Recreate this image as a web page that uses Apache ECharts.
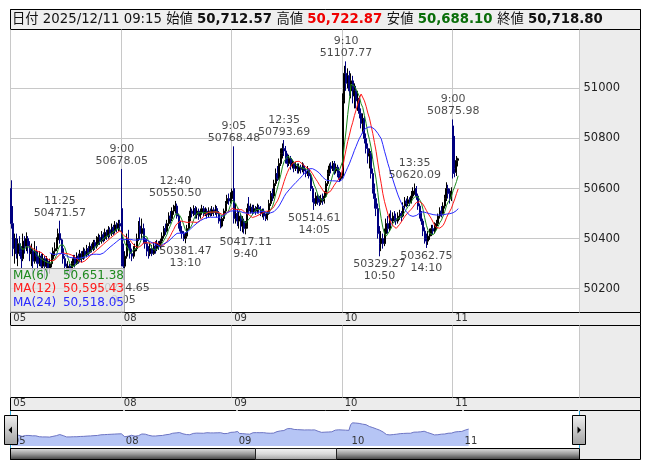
<!DOCTYPE html>
<html><head><meta charset="utf-8">
<script src="https://cdn.jsdelivr.net/npm/echarts@6/dist/echarts.min.js"></script>
<style>html,body{margin:0;padding:0;background:#fff}#c{width:653px;height:470px}</style>
</head><body><div id="c"></div>
<script>
// ---------- data ----------
const days = ['05', '08', '09', '10', '11'];
const sessionTimes = ['9:00','9:05','9:10','9:15','9:20','9:25','9:30','9:35','9:40','9:45','9:50','9:55',
  '10:00','10:05','10:10','10:15','10:20','10:25','10:30','10:35','10:40','10:45','10:50','10:55',
  '11:00','11:05','11:10','11:15','11:20','11:25',
  '12:30','12:35','12:40','12:45','12:50','12:55',
  '13:00','13:05','13:10','13:15','13:20','13:25','13:30','13:35','13:40','13:45','13:50','13:55',
  '14:00','14:05','14:10','14:15','14:20','14:25','14:30','14:35','14:40','14:45','14:50','14:55',
  '15:00','15:05','15:10','15:15','15:20','15:25'];
// bars: [open, close, low, high]
const d05 = [[50600,50460,50440,50633],[50460,50360,50330,50530],[50360,50400,50300,50420],[50400,50340,50320,50420],[50340,50380,50290,50400],[50380,50350,50330,50410],
[50350,50320,50280,50370],[50320,50390,50310,50420],[50390,50370,50340,50410],[50370,50400,50350,50425],[50400,50370,50340,50410],[50370,50340,50310,50390],
[50340,50350,50290,50380],[50350,50310,50260,50360],[50310,50350,50300,50390],[50350,50330,50300,50370],[50330,50300,50260,50350],[50300,50330,50290,50350],
[50330,50290,50250,50340],[50290,50320,50280,50340],[50320,50290,50240,50330],[50290,50310,50270,50330],[50310,50280,50250,50320],[50280,50300,50260,50320],
[50300,50320,50285,50340],[50320,50350,50310,50365],[50350,50360,50330,50385],[50360,50395,50350,50405],[50395,50420,50380,50440],[50420,50395,50380,50471.57],
[50395,50360,50340,50400],[50360,50320,50300,50370],[50320,50290,50270,50330],[50290,50270,50250,50300],[50270,50290,50255,50310],[50290,50265,50250,50300],
[50265,50300,50255,50310],[50300,50320,50290,50335],[50320,50300,50285,50335],[50300,50330,50295,50345],[50330,50315,50300,50340],[50315,50340,50305,50355],
[50340,50320,50305,50350],[50320,50350,50315,50365],[50350,50335,50320,50360],[50335,50360,50325,50375],[50360,50345,50330,50370],[50345,50370,50340,50385],
[50370,50360,50345,50380],[50360,50385,50350,50395],[50385,50370,50355,50395],[50370,50395,50360,50410],[50395,50405,50375,50420],[50405,50390,50375,50415],
[50390,50415,50380,50430],[50415,50400,50385,50425],[50400,50425,50390,50440],[50425,50410,50395,50435],[50410,50435,50400,50450],[50435,50420,50405,50445],
[50420,50445,50410,50460],[50445,50430,50415,50455],[50430,50455,50420,50470],[50455,50440,50425,50465],[50440,50460,50430,50475],[50460,50450,50430,50475]];
const d08 = [[50520,50300,50290,50678.05],[50350,50290,50234.65,50380],[50290,50330,50260,50350],[50330,50400,50320,50420],[50400,50380,50360,50435],[50380,50340,50320,50390],
[50340,50330,50310,50360],[50330,50350,50320,50370],[50350,50360,50330,50380],[50360,50400,50350,50420],[50400,50450,50390,50470],[50450,50420,50400,50485],
[50420,50440,50400,50480],[50440,50400,50380,50460],[50400,50380,50360,50420],[50380,50350,50330,50400],[50350,50340,50320,50370],[50340,50360,50330,50380],
[50360,50340,50330,50375],[50340,50370,50335,50385],[50370,50360,50340,50390],[50360,50380,50350,50395],[50380,50370,50355,50390],[50370,50390,50360,50400],
[50390,50410,50380,50425],[50410,50440,50400,50450],[50440,50430,50415,50460],[50430,50460,50425,50475],[50460,50490,50450,50505],[50490,50480,50460,50510],
[50480,50510,50470,50525],[50510,50515,50495,50535],[50515,50530,50500,50550.50],[50530,50490,50480,50540],[50490,50460,50440,50500],[50460,50430,50420,50470],
[50430,50420,50400,50450],[50420,50400,50390,50430],[50400,50410,50381.47,50425],[50410,50440,50400,50455],[50440,50480,50435,50490],[50480,50510,50470,50526],
[50510,50500,50485,50520],[50500,50520,50490,50533],[50520,50495,50480,50530],[50495,50510,50480,50525],[50510,50490,50475,50520],[50490,50505,50480,50520],
[50505,50520,50495,50535],[50520,50500,50490,50530],[50500,50510,50490,50525],[50510,50495,50480,50520],[50495,50510,50485,50525],[50510,50500,50488,50520],
[50500,50515,50490,50530],[50515,50505,50490,50525],[50505,50520,50495,50535],[50520,50500,50485,50530],[50500,50470,50460,50510],[50470,50450,50441,50480],
[50450,50480,50445,50490],[50480,50510,50470,50520],[50510,50540,50500,50550],[50540,50560,50530,50575],[50560,50550,50535,50580],[50550,50570,50540,50585]];
const d09 = [[50560,50590,50540,50600],[50600,50480,50460,50768.48],[50480,50500,50460,50540],[50500,50470,50450,50520],[50470,50490,50440,50510],[50490,50450,50430,50500],
[50450,50470,50425,50490],[50470,50440,50420,50480],[50440,50450,50417.11,50470],[50450,50520,50440,50540],[50530,50510,50495,50566],[50510,50525,50500,50540],
[50525,50505,50495,50535],[50505,50520,50500,50535],[50520,50510,50495,50530],[50510,50525,50500,50540],[50525,50515,50500,50535],[50515,50500,50490,50530],
[50500,50510,50485,50520],[50510,50490,50475,50520],[50490,50480,50470,50500],[50480,50500,50473,50510],[50500,50540,50495,50555],[50540,50580,50530,50590],
[50580,50570,50550,50600],[50570,50620,50560,50635],[50620,50660,50610,50680],[50660,50640,50630,50690],[50640,50700,50635,50720],[50700,50740,50690,50760],
[50740,50760,50720,50780],[50760,50750,50730,50793.69],[50750,50720,50700,50770],[50720,50700,50685,50740],[50700,50720,50690,50735],[50720,50690,50675,50730],
[50690,50700,50680,50715],[50700,50680,50665,50710],[50680,50690,50670,50705],[50690,50670,50660,50700],[50670,50685,50660,50700],[50685,50675,50660,50695],
[50675,50690,50665,50705],[50690,50670,50655,50700],[50670,50660,50645,50680],[50660,50675,50650,50690],[50675,50650,50640,50680],[50650,50600,50590,50660],
[50600,50560,50545,50610],[50560,50540,50514.61,50575],[50540,50570,50530,50585],[50570,50550,50535,50580],[50550,50545,50530,50570],[50545,50560,50535,50575],
[50560,50550,50535,50580],[50550,50570,50540,50590],[50570,50620,50565,50630],[50620,50660,50610,50675],[50660,50690,50650,50700],[50690,50680,50660,50705],
[50680,50700,50670,50710],[50700,50670,50655,50710],[50670,50685,50660,50700],[50685,50660,50645,50695],[50660,50640,50626,50670],[50640,50650,50630,50665]];
const d10 = [[50650,50950,50640,50980],[50950,51060,50940,51090],[51060,51020,50990,51107.77],[51020,51050,51000,51080],[51050,50990,50970,51070],[50990,51030,50960,51060],
[51030,50970,50940,51050],[50970,50990,50920,51020],[50990,50950,50920,51010],[50950,50960,50910,50990],[50960,50900,50880,50970],[50900,50860,50840,50920],
[50860,50880,50820,50900],[50880,50800,50780,50890],[50800,50760,50740,50820],[50760,50730,50700,50780],[50730,50740,50680,50760],[50740,50660,50640,50750],
[50660,50600,50580,50680],[50600,50560,50520,50620],[50560,50520,50490,50580],[50520,50420,50400,50540],[50420,50380,50329.27,50450],[50380,50400,50350,50430],
[50400,50380,50360,50420],[50380,50420,50370,50440],[50420,50460,50410,50480],[50460,50440,50420,50490],[50440,50480,50430,50500],[50480,50470,50450,50513],
[50470,50490,50460,50505],[50490,50480,50465,50510],[50480,50470,50455,50500],[50470,50490,50460,50505],[50490,50500,50475,50515],[50500,50490,50470,50510],
[50490,50530,50485,50545],[50530,50550,50520,50566],[50550,50540,50525,50560],[50540,50555,50530,50570],[50555,50545,50530,50565],[50545,50570,50540,50590],
[50570,50590,50560,50605],[50590,50600,50575,50620.09],[50600,50570,50555,50610],[50570,50530,50515,50580],[50530,50500,50480,50540],[50500,50470,50455,50510],
[50470,50430,50410,50480],[50430,50400,50380,50445],[50400,50390,50362.75,50420],[50390,50410,50375,50430],[50410,50420,50395,50440],[50420,50440,50410,50455],
[50440,50430,50415,50455],[50430,50450,50420,50465],[50450,50460,50435,50475],[50460,50490,50450,50500],[50490,50510,50480,50525],[50510,50500,50485,50530],
[50500,50530,50495,50545],[50530,50560,50520,50575],[50560,50600,50550,50625],[50600,50580,50560,50615],[50580,50560,50540,50600],[50560,50590,50550,50605]];
const d11 = [[50850,50660,50640,50875.98],[50680,50665,50645,50810],[50665,50712,50650,50730],[50712.57,50718.80,50688.10,50722.87]];

const yTicks = [50200, 50400, 50600, 50800, 51000];
const maPeriods = [6, 12, 24];
const maLegendValues = ['50,651.38', '50,595.43', '50,518.05'];
const headerDate = '2025/12/11 09:15';
const headerOHLC = [50712.57, 50722.87, 50688.10, 50718.80];
const highMarks = ['05 11:25', '08 9:00', '08 12:40', '09 9:05', '09 12:35', '10 9:10', '10 13:35', '11 9:00'];
const lowMarks = ['08 9:05', '08 13:10', '09 9:40', '09 14:05', '10 10:50', '10 14:10'];

// ---------- build ----------
const dayBars = [d05, d08, d09, d10, d11];
const cats = [], bars = [], dayStart = [];
dayBars.forEach((arr, di) => {
  dayStart.push(cats.length);
  arr.forEach((b, i) => { cats.push(days[di] + ' ' + sessionTimes[i]); bars.push(b); });
});
const MAIN_SLOTS = 340, SLIDER_SLOTS = 332;
const mainCats = cats.slice(); for (let i = cats.length; i < MAIN_SLOTS; i++) mainCats.push('pad' + i);
const sliderCats = cats.slice(); for (let i = cats.length; i < SLIDER_SLOTS; i++) sliderCats.push('pad' + i);
const closes = bars.map(b => b[1]);
function ma(n) { return closes.map((_, i) => { if (i < n - 1) return '-'; let s = 0; for (let k = i - n + 1; k <= i; k++) s += closes[k]; return +(s / n).toFixed(2); }); }
const isDayStart = (idx) => dayStart.indexOf(idx) >= 0;
const dayFmt = v => v.split(' ')[0];

const annoData = [];
highMarks.forEach(k => { const i = cats.indexOf(k); annoData.push({ value: [i, bars[i][3]], label: { position: 'top', formatter: k.split(' ')[1] + '\n' + bars[i][3].toFixed(2) } }); });
lowMarks.forEach(k => { const i = cats.indexOf(k); annoData.push({ value: [i, bars[i][2]], label: { position: 'bottom', formatter: bars[i][2].toFixed(2) + '\n' + k.split(' ')[1] } }); });

const FONT = "'DejaVu Sans', 'Noto Sans CJK JP', sans-serif";
const fmt = v => v.toLocaleString('en-US', { minimumFractionDigits: 2, maximumFractionDigits: 2 });
const maColors = ['#1f8a1f', '#ff1a1a', '#2a2aff'];

const L = 10.5, R = 579.5, W = R - L;
const grad = (stops) => ({ type: 'linear', x: 0, y: 0, x2: 0, y2: 1, colorStops: stops.map((c, i) => ({ offset: i / (stops.length - 1), color: c })) });
const HF = 13.3;

const graphic = [
  { type: 'rect', z: -10, shape: { x: 10.5, y: 9.5, width: 630, height: 450 }, style: { fill: '#ececec', stroke: '#000', lineWidth: 1 } },
  { type: 'rect', z: -9, shape: { x: 10.5, y: 9.5, width: 630, height: 20 }, style: { fill: '#efefef', stroke: '#000', lineWidth: 1 } },
  { type: 'rect', z: -9, shape: { x: 10.5, y: 312.5, width: 630, height: 13 }, style: { fill: '#ececec', stroke: '#000', lineWidth: 1 } },
  { type: 'rect', z: -9, shape: { x: 10.5, y: 397.5, width: 630, height: 13 }, style: { fill: '#ececec', stroke: '#000', lineWidth: 1 } },
  { type: 'rect', z: -9, shape: { x: 11, y: 411, width: 568.5, height: 37 }, style: { fill: '#fff' } },
  { type: 'rect', z: 50, shape: { x: 10.5, y: 448.5, width: 569, height: 11 }, style: { fill: grad(['#e4e4e4', '#9a9a9a', '#3a3a3a']), stroke: '#000', lineWidth: 1 } },
  { type: 'rect', z: 51, shape: { x: 255.5, y: 448.5, width: 81, height: 11 }, style: { fill: grad(['#f6f6f6', '#dadada', '#9c9c9c']), stroke: '#222', lineWidth: 1 } },
  { type: 'line', z: 50, shape: { x1: 10.5, y1: 411, x2: 10.5, y2: 448 }, style: { stroke: '#2ba5d8', lineWidth: 1 } },
  { type: 'line', z: 50, shape: { x1: 579.5, y1: 411, x2: 579.5, y2: 448 }, style: { stroke: '#2ba5d8', lineWidth: 1 } },
  { type: 'rect', z: 52, shape: { x: 4.5, y: 415.5, width: 13, height: 29 }, style: { fill: grad(['#f0f0f0', '#c8c8c8', '#a0a0a0']), stroke: '#000', lineWidth: 1 } },
  { type: 'polygon', z: 53, shape: { points: [[8.5, 430], [12, 426.5], [12, 433.5]] }, style: { fill: '#000' } },
  { type: 'rect', z: 52, shape: { x: 572.5, y: 415.5, width: 13, height: 29 }, style: { fill: grad(['#f0f0f0', '#c8c8c8', '#a0a0a0']), stroke: '#000', lineWidth: 1 } },
  { type: 'polygon', z: 53, shape: { points: [[577.5, 426.5], [581, 430], [577.5, 433.5]] }, style: { fill: '#000' } },
  // header
  { type: 'text', z: 60, style: { x: 12, y: 20, verticalAlign: 'middle',
      text: '{l|日付 }{t|' + headerDate + ' }{l|始値 }{b|' + fmt(headerOHLC[0]) + ' }{l|高値 }{r|' + fmt(headerOHLC[1]) + ' }{l|安値 }{g|' + fmt(headerOHLC[2]) + ' }{l|終値 }{b|' + fmt(headerOHLC[3]) + '}',
      rich: {
        l: { fontFamily: FONT, fontSize: HF, fill: '#111' },
        t: { fontFamily: FONT, fontSize: HF, fill: '#111' },
        b: { fontFamily: FONT, fontSize: HF, fontWeight: 'bold', fill: '#111' },
        r: { fontFamily: FONT, fontSize: HF, fontWeight: 'bold', fill: '#f00000' },
        g: { fontFamily: FONT, fontSize: HF, fontWeight: 'bold', fill: '#0a6e0a' }
      } } },
  // MA legend box
  { type: 'rect', z: 60, shape: { x: 10.5, y: 268.5, width: 114, height: 43.5 }, style: { fill: 'rgba(228,228,228,0.82)', stroke: '#a8a8a8', lineWidth: 1 } }
];
maPeriods.forEach((p, k) => {
  graphic.push({ type: 'text', z: 61, style: { x: 13, y: 275.5 + k * 13.5, verticalAlign: 'middle', text: 'MA(' + p + ')', fontFamily: FONT, fontSize: 12, fill: maColors[k] } });
  graphic.push({ type: 'text', z: 61, style: { x: 124, y: 275.5 + k * 13.5, verticalAlign: 'middle', align: 'right', text: maLegendValues[k], fontFamily: FONT, fontSize: 12, fill: maColors[k] } });
});

const option = {
  animation: false,
  textStyle: { fontFamily: FONT },
  graphic: { elements: graphic },
  grid: [
    { left: L, top: 29.5, width: W, height: 283, show: true, backgroundColor: '#fff', borderColor: '#000', borderWidth: 1 },
    { left: L, top: 325.5, width: W, height: 72, show: true, backgroundColor: '#fff', borderColor: '#000', borderWidth: 1 },
    { left: 11, top: 410, width: 568, height: 36, show: false }
  ],
  xAxis: [
    { type: 'category', gridIndex: 0, data: mainCats, boundaryGap: true,
      axisLine: { show: false }, axisTick: { show: false },
      axisLabel: { interval: (i) => isDayStart(i), formatter: dayFmt, align: 'left', padding: [0, 0, 0, 2], margin: 1, fontSize: 10, color: '#333' },
      splitLine: { show: true, interval: (i) => isDayStart(i), lineStyle: { color: '#c8c8c8', width: 1 } } },
    { type: 'category', gridIndex: 1, data: mainCats, boundaryGap: true,
      axisLine: { show: false }, axisTick: { show: false },
      axisLabel: { interval: (i) => isDayStart(i), formatter: dayFmt, align: 'left', padding: [0, 0, 0, 2], margin: 1, fontSize: 10, color: '#333' },
      splitLine: { show: true, interval: (i) => isDayStart(i), lineStyle: { color: '#c8c8c8', width: 1 } } },
    { type: 'category', gridIndex: 2, data: sliderCats, boundaryGap: true, z: 3,
      axisLine: { show: false }, axisTick: { show: false },
      axisLabel: { inside: true, interval: (i) => isDayStart(i), formatter: dayFmt, align: 'left', padding: [0, 0, 0, 1], margin: 0, fontSize: 10, color: '#333' },
      splitLine: { show: true, interval: (i) => isDayStart(i) && i > 0, lineStyle: { color: '#ffffff', width: 1.5 } } }
  ],
  yAxis: [
    { type: 'value', gridIndex: 0, position: 'right', min: 50105, max: 51235, scale: true,
      axisLine: { show: false }, axisTick: { show: false, customValues: yTicks },
      axisLabel: { customValues: yTicks, formatter: v => String(v), margin: 4, fontSize: 11.5, color: '#222' },
      splitLine: { show: true, lineStyle: { color: '#c8c8c8', width: 1 } } },
    { type: 'value', gridIndex: 1, min: 0, max: 1, show: false, splitLine: { show: false } },
    { type: 'value', gridIndex: 2, min: 49792, max: 51765, show: false, splitLine: { show: false } }
  ],
  series: [
    { type: 'candlestick', xAxisIndex: 0, yAxisIndex: 0, data: bars, barWidth: 1.5,
      itemStyle: { color: '#000000', color0: '#000080', borderColor: '#000000', borderColor0: '#000080', borderWidth: 1 } },
    ...maPeriods.map((p, k) => ({ type: 'line', name: 'MA(' + p + ')', xAxisIndex: 0, yAxisIndex: 0, data: ma(p), showSymbol: false, symbol: 'none',
      lineStyle: { color: maColors[k], width: 1 }, z: 3 })),
    { type: 'scatter', xAxisIndex: 0, yAxisIndex: 0, data: annoData, symbolSize: 0, z: 4,
      label: { show: true, distance: 2, fontSize: 11, lineHeight: 12, color: '#1a1a1a', fontFamily: FONT } },
    { type: 'line', xAxisIndex: 2, yAxisIndex: 2, data: closes, showSymbol: false, symbol: 'none',
      lineStyle: { color: '#6d75c4', width: 1 }, areaStyle: { color: '#b6c5f5', opacity: 1 } }
  ]
};
const chart = echarts.init(document.getElementById('c'), null, { renderer: 'canvas' });
chart.setOption(option);
</script>
</body></html>
